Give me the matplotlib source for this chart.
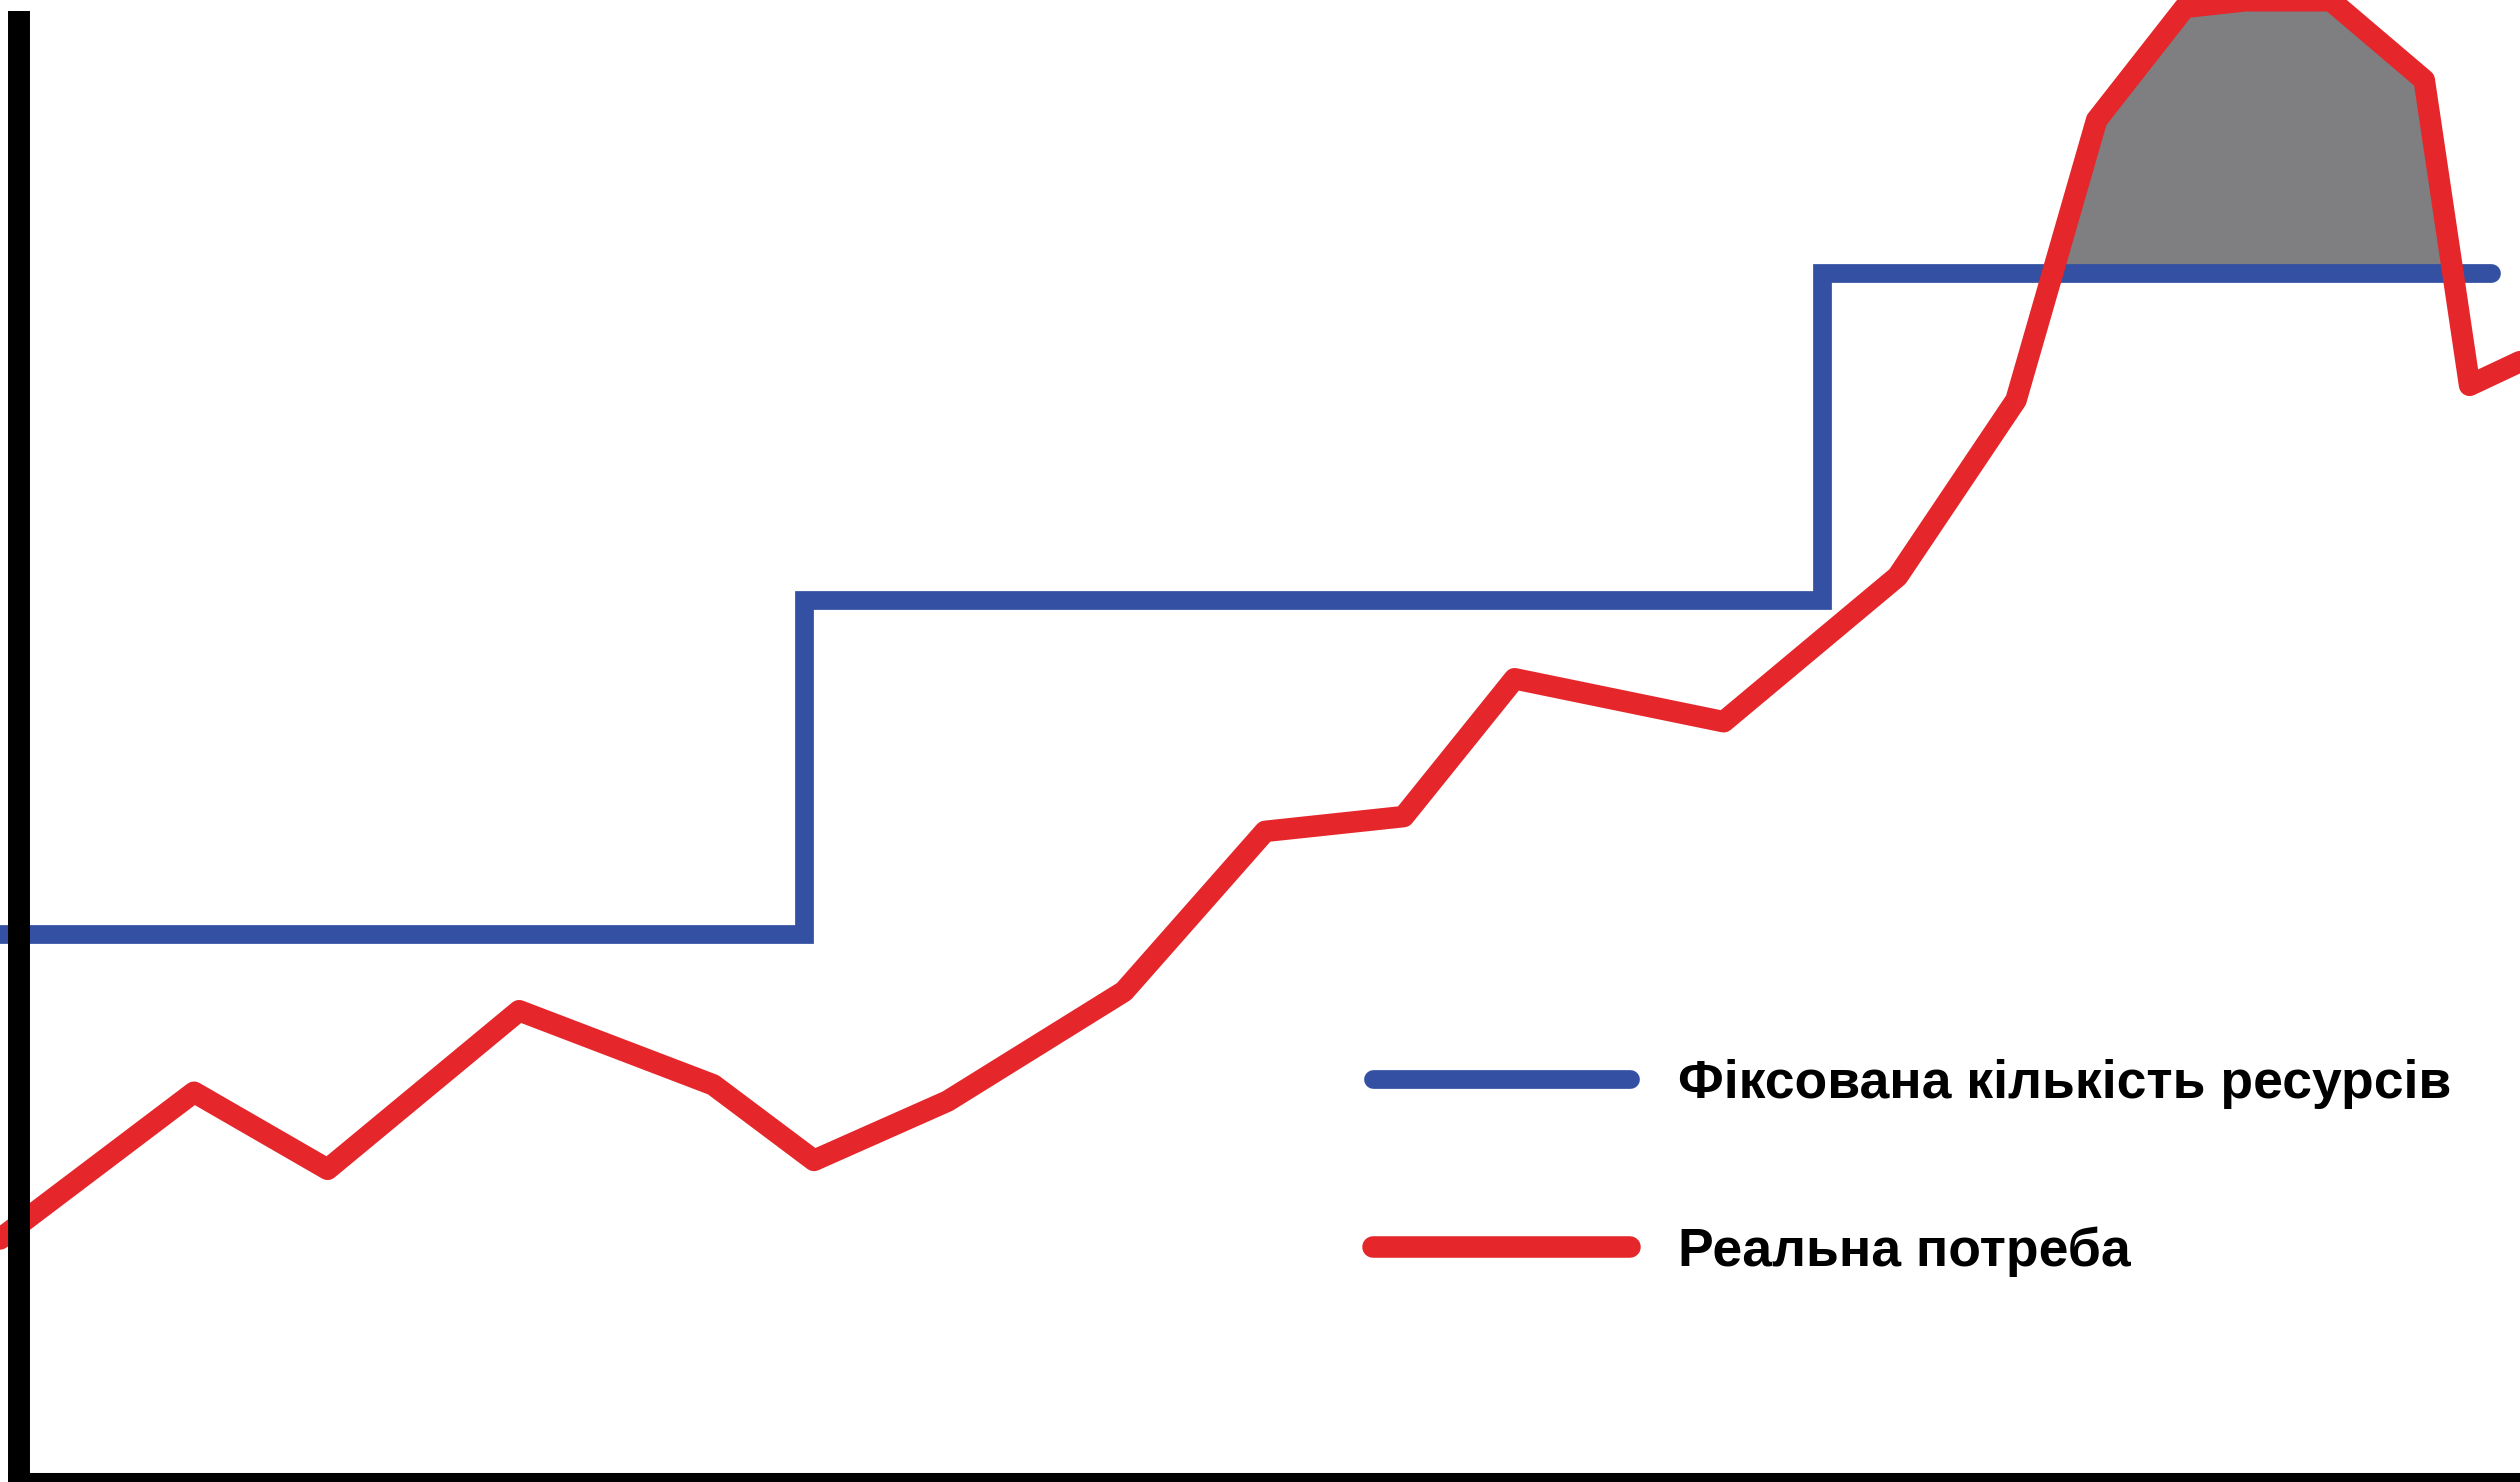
import numpy as np
import matplotlib
matplotlib.use("Agg")
from matplotlib import pyplot as plt

# фіксовані ресурси (сходинки) і реальна потреба, умовні одиниці 0..100
step_x = [0, 31.9, 72.3, 98.85]
step_y = [37.0, 59.5, 81.6, 81.6]

need_x = [0, 7.7, 13.0, 20.6, 28.3, 32.3, 37.6, 44.6, 50.2, 55.7, 60.1,
          68.4, 75.3, 80.0, 83.2, 86.7, 89.1, 92.5, 96.2, 98.0, 100]
need_y = [16.4, 26.3, 21.1, 31.8, 26.8, 21.7, 25.7, 33.1, 43.9, 44.9, 54.2,
          51.3, 61.1, 73.0, 91.9, 99.5, 99.95, 99.95, 94.6, 74.0, 75.6]

labels = ['Фіксована кількість ресурсів', 'Реальна потреба']

BLUE = '#3450a2'
RED = '#e5262b'
GRAY = '#7f7e81'

plt.rcParams['font.family'] = ['Liberation Sans', 'DejaVu Sans']

fig = plt.figure(figsize=(25.2, 14.82), dpi=100)
ax = fig.add_axes([0, 0, 1, 1])
ax.set_xlim(0, 100)
ax.set_ylim(0, 100)

nx = np.array(need_x)
ny = np.array(need_y)
ax.fill_between(nx, ny, step_y[-1], where=(ny >= step_y[-1]) & (nx > step_x[2]),
                interpolate=True, color=GRAY, lw=0, zorder=1, clip_on=False)

blue, = ax.step(step_x, step_y, where='post', color=BLUE, lw=13.5,
                solid_capstyle='round', solid_joinstyle='miter', label=labels[0], zorder=2)
red, = ax.plot(need_x, need_y, color=RED, lw=15.5, clip_on=False,
               solid_capstyle='round', solid_joinstyle='round', label=labels[1], zorder=3)

# осі: тільки ліва і нижня, товсті чорні
for s in ['top', 'right']:
    ax.spines[s].set_visible(False)
ax.spines['left'].set_position(('data', 0.75))
ax.spines['left'].set_bounds(-1, 99.26)
ax.spines['left'].set_linewidth(15.8)
ax.spines['bottom'].set_bounds(0.32, 100)
ax.spines['bottom'].set_linewidth(13.0)
for s in ['left', 'bottom']:
    ax.spines[s].set_capstyle('butt')
    ax.spines[s].set_color('black')
    ax.spines[s].set_zorder(5)
ax.set_xticks([])
ax.set_yticks([])

leg = ax.legend(handles=[blue, red], loc='center left', bbox_to_anchor=(54.5, 21.2),
                bbox_transform=ax.transData, frameon=False, borderpad=0, borderaxespad=0,
                handlelength=4.79, handletextpad=0.9, labelspacing=2.2,
                prop={'size': 38.5, 'weight': 'bold'})

fig.savefig('out.png', dpi=100, facecolor='white')
